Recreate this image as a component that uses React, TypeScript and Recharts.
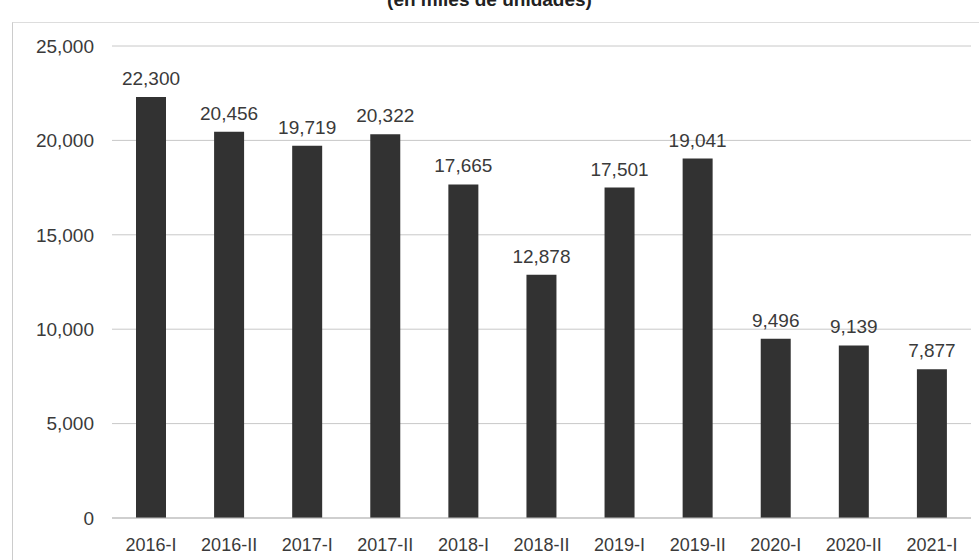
import React from "react";
import { BarChart, Bar, XAxis, YAxis, CartesianGrid, LabelList } from "recharts";

const categories = ["2016-I", "2016-II", "2017-I", "2017-II", "2018-I", "2018-II", "2019-I", "2019-II", "2020-I", "2020-II", "2021-I"];
const values = [22300, 20456, 19719, 20322, 17665, 12878, 17501, 19041, 9496, 9139, 7877];
const yTicks = [0, 5000, 10000, 15000, 20000, 25000];

const data = categories.map((c, i) => ({ name: c, value: values[i] }));
const fmt = (v: number) => v.toLocaleString("en-US");
const font = "'Liberation Sans', Arial, sans-serif";

export default function App() {
  return (
    <div style={{ position: "fixed", left: 0, top: 0, width: 979, height: 560, background: "#fff", overflow: "hidden", fontFamily: font }}>
      <div style={{ position: "absolute", top: -11, left: 0, width: 979, textAlign: "center", fontSize: 19, fontWeight: "bold", color: "#222" }}>
        (en miles de unidades)
      </div>
      <div style={{ position: "absolute", left: 12, top: 22, width: 970, height: 540, borderLeft: "1px solid #ccc", borderTop: "1px solid #ddd" }} />
      <BarChart width={979} height={560} data={data} margin={{ top: 46, right: 8, bottom: 12, left: 0 }}>
        <CartesianGrid vertical={false} stroke="#c8c8c8" />
        <XAxis
          dataKey="name"
          height={30}
          tickLine={false}
          axisLine={{ stroke: "#bbb" }}
          tickSize={0}
          tickMargin={20}
          interval={0}
          tick={{ fontSize: 18, fill: "#3a3a3a", fontFamily: font }}
        />
        <YAxis
          width={112}
          domain={[0, 25000]}
          ticks={yTicks}
          tickFormatter={fmt}
          axisLine={false}
          tickLine={false}
          tickSize={0}
          tickMargin={18}
          tick={{ fontSize: 19, fill: "#3a3a3a", fontFamily: font }}
        />
        <Bar dataKey="value" fill="#323232" barSize={30} isAnimationActive={false}>
          <LabelList dataKey="value" position="top" offset={12} formatter={(v: any) => fmt(Number(v))} style={{ fontSize: 19, fill: "#3a3a3a", fontFamily: font }} />
        </Bar>
      </BarChart>
    </div>
  );
}
